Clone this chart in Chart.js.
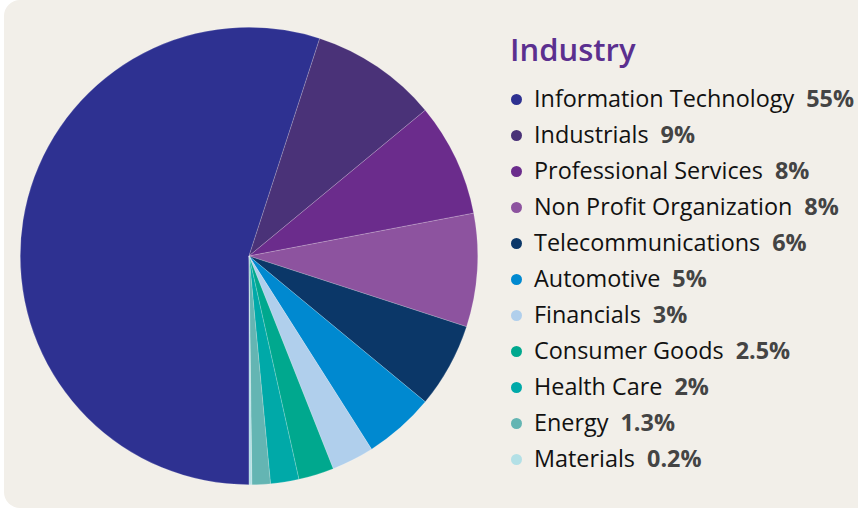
<!DOCTYPE html>
<html>
<head>
<meta charset="utf-8">
<script src="https://cdn.jsdelivr.net/npm/chart.js@4"></script>
<style>
  html, body { margin:0; padding:0; background:#ffffff; }
  body { width:858px; height:510px; position:relative; overflow:hidden; font-family:"Open Sans", sans-serif; }
  .card { position:absolute; left:4px; top:0; width:870px; height:508px; background:#f2efe9; border-radius:16px; }
  .pie { position:absolute; left:20px; top:27px; width:458px; height:458px; }
  .title { position:absolute; left:510px; top:28px; font-size:31px; font-weight:600; color:#5b2f8f; }
  .legend { position:absolute; left:511px; top:80px; }
  .item { height:36px; line-height:36px; font-size:23.4px; color:#111; white-space:nowrap; }
  .dot { display:inline-block; width:11px; height:11px; border-radius:50%; margin-right:12px; vertical-align:2px; }
  .pct { font-weight:700; color:#444; margin-left:12px; }
</style>
</head>
<body>
<div class="card"></div>
<div class="pie"><canvas id="industryChart" width="458" height="458"></canvas></div>
<div class="title">Industry</div>
<div class="legend" id="legend"></div>
<script>
const industries = ['Information Technology','Industrials','Professional Services','Non Profit Organization','Telecommunications','Automotive','Financials','Consumer Goods','Health Care','Energy','Materials']
const shares = [55,9,8,8,6,5,3,2.5,2,1.3,0.2]
const shareLabels = ['55%','9%','8%','8%','6%','5%','3%','2.5%','2%','1.3%','0.2%']
const colors = ['#2e3191','#4a3278','#6b2c8c','#8d539f','#0b3768','#0089d0','#b0cfec','#00a88e','#00a9a8','#64b5b3','#b3e0e6']

const legend = document.getElementById('legend')

industries.forEach((name,i)=>{
  const row = document.createElement('div')
  row.className = 'item'
  row.innerHTML = '<span class="dot" style="background:' + colors[i] + '"></span>' + name + '<span class="pct">' + shareLabels[i] + '</span>'
  legend.appendChild(row)
})

new Chart(document.getElementById('industryChart'), {
  type:'pie',
  data:{
    labels:industries,
    datasets:[{
      data:shares,
      backgroundColor:colors,
      borderColor:'rgba(255,255,255,0.35)',
      borderWidth:0.5
    }]
  },
  options:{
    responsive:false,
    animation:false,
    rotation:180,
    layout:{ padding:0 },
    plugins:{
      legend:{ display:false },
      tooltip:{ enabled:false }
    }
  }
})
</script>
</body>
</html>
